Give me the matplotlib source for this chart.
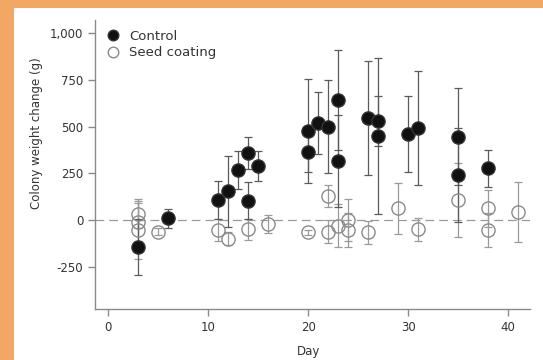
import matplotlib
matplotlib.use("Agg")
import matplotlib.pyplot as plt
from matplotlib.patches import Rectangle
from matplotlib.ticker import FuncFormatter

# values
control_days = [3, 6, 11, 12, 13, 14, 14, 15, 20, 20, 21, 22, 23, 23, 26, 27, 27, 30, 31, 35, 35, 38]
control_vals = [-145, 10, 107, 155, 268, 360, 103, 291, 476, 366, 521, 500, 642, 316,
                546, 530, 450, 460, 491, 446, 241, 277]
control_err = [150, 50, 100, 190, 100, 85, 100, 80, 280, 110, 165, 250, 268, 246,
               305, 135, 415, 205, 305, 259, 250, 98]

seed_days = [3, 3, 3, 5, 11, 12, 14, 16, 20, 22, 22, 23, 24, 24, 26, 29, 31, 35, 38, 38, 41]
seed_vals = [35, -10, -55, -62, -54, -100, -50, -21, -66, -62, 128, -30, 0, -54, -66,
             62, -50, 107, 63, -53, 45]
seed_err = [80, 100, 155, 20, 60, 35, 55, 50, 15, 63, 60, 115, 110, 90, 60,
            135, 60, 200, 100, 90, 160]

y_ticks = [-250, 0, 250, 500, 750, 1000]
x_ticks = [0, 10, 20, 30, 40]

plt.rcParams['font.family'] = ['DejaVu Sans']

fig = plt.figure(figsize=(5.43, 3.6), dpi=100)
fig.patch.set_facecolor('#f2a864')
# white panel inside the orange frame
fig.patches.append(Rectangle((14 / 543, 0), 1, 1 - 8 / 360, transform=fig.transFigure,
                             facecolor='white', edgecolor='none', zorder=-10))

ax = fig.add_axes([0.175, 0.1417, 0.801, 0.803])
ax.set_facecolor('none')

ax.axhline(0, color='#9a9a9a', lw=0.9, linestyle=(0, (7, 4)), zorder=1)

ax.errorbar(seed_days, seed_vals, yerr=seed_err, fmt='none', ecolor='#9a9a9a',
            elinewidth=0.9, capsize=3, capthick=0.9, zorder=2)
ax.errorbar(control_days, control_vals, yerr=control_err, fmt='none', ecolor='#5a5a5a',
            elinewidth=0.9, capsize=3, capthick=0.9, zorder=3)

ax.plot(control_days, control_vals, 'o', color='#111111', ms=9.5, mec='#333333',
        label='Control', zorder=5)
ax.plot(seed_days, seed_vals, 'o', mfc='none', mec='#8a8a8a', mew=1.0, ms=9.5,
        label='Seed coating', zorder=4)

ax.set_xlim(-1.33, 42.2)
ax.set_ylim(-476, 1071)
ax.set_xticks(x_ticks)
ax.set_yticks(y_ticks)
ax.yaxis.set_major_formatter(FuncFormatter(lambda v, p: f"{int(v):,}"))

for s in ['top', 'right']:
    ax.spines[s].set_visible(False)
for s in ['left', 'bottom']:
    ax.spines[s].set_color('#8a8a8a')
    ax.spines[s].set_linewidth(1.0)
ax.tick_params(colors='#8a8a8a', labelcolor='#333333', labelsize=8.5, length=5, width=1)

ax.set_xlabel('Day', fontsize=8.5, color='#333333')
ax.set_ylabel('Colony weight change (g)', fontsize=8.5, color='#333333')
ax.xaxis.set_label_coords(0.49, -0.125)
ax.yaxis.set_label_coords(-0.12, 0.61)

ax.legend(loc='upper left', bbox_to_anchor=(0.0, 0.985), frameon=False, fontsize=9.5,
          markerscale=0.8, handletextpad=0.2, labelspacing=0.3, borderaxespad=0,
          labelcolor='#333333')

fig.savefig('out.png', dpi=100, facecolor=fig.get_facecolor())
